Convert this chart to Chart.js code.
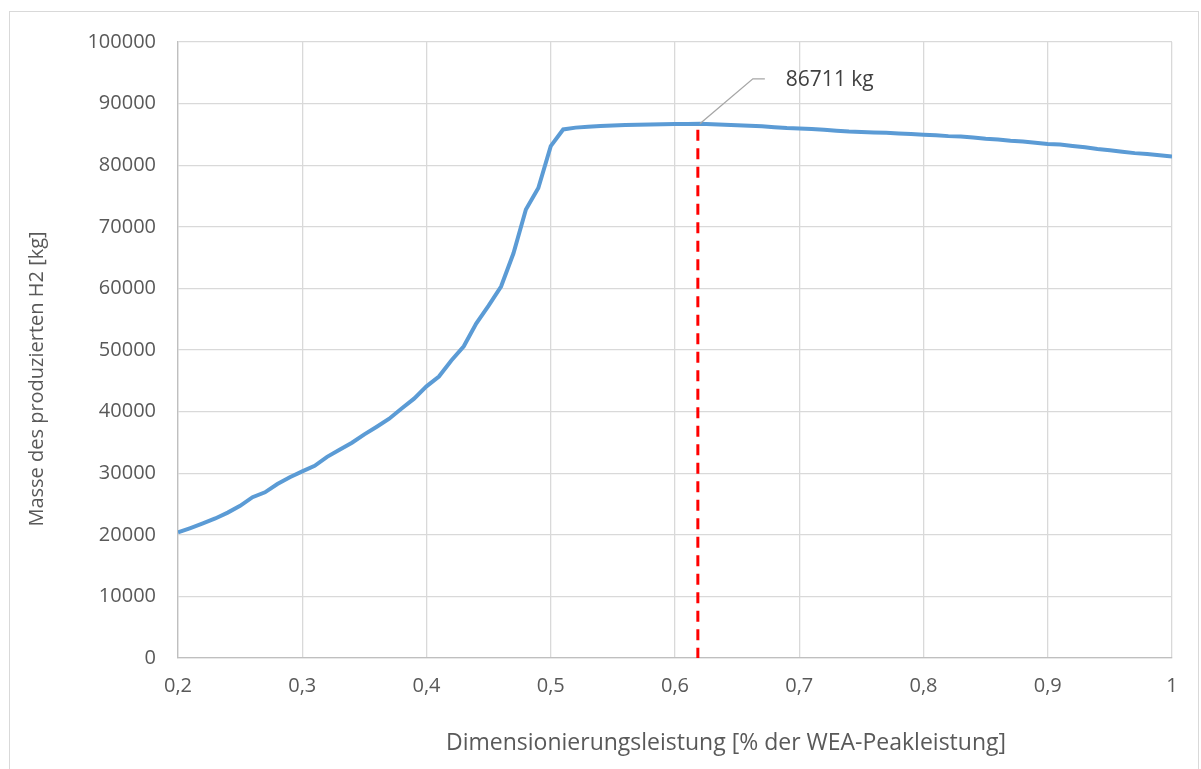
<!DOCTYPE html>
<html>
<head>
<meta charset="utf-8">
<script src="https://cdn.jsdelivr.net/npm/chart.js@4.4.1/dist/chart.umd.min.js"></script>
<style>
  html, body { margin: 0; padding: 0; background: #ffffff; }
  #wrap { width: 1201px; height: 769px; position: relative; }
</style>
</head>
<body>
<div id="wrap"><canvas id="c" width="1201" height="769"></canvas></div>
<script>
// Dimensionierungsleistung (Anteil der WEA-Peakleistung)
const leistung = [
  0.20, 0.21, 0.22, 0.23, 0.24, 0.25, 0.26, 0.27, 0.28, 0.29,
  0.30, 0.31, 0.32, 0.33, 0.34, 0.35, 0.36, 0.37, 0.38, 0.39,
  0.40, 0.41, 0.42, 0.43, 0.44, 0.45, 0.46, 0.47, 0.48, 0.49,
  0.50, 0.51, 0.52, 0.53, 0.54, 0.55, 0.56, 0.57, 0.58, 0.59,
  0.60, 0.61, 0.62, 0.63, 0.64, 0.65, 0.66, 0.67, 0.68, 0.69,
  0.70, 0.71, 0.72, 0.73, 0.74, 0.75, 0.76, 0.77, 0.78, 0.79,
  0.80, 0.81, 0.82, 0.83, 0.84, 0.85, 0.86, 0.87, 0.88, 0.89,
  0.90, 0.91, 0.92, 0.93, 0.94, 0.95, 0.96, 0.97, 0.98, 0.99,
  1.00
];

// Masse des produzierten H2 in kg
const masseH2 = [
  20400, 21100, 21850, 22650, 23600, 24700, 26100, 26900, 28250, 29350,
  30300, 31200, 32650, 33800, 34950, 36300, 37550, 38850, 40500, 42100,
  44100, 45700, 48300, 50600, 54300, 57200, 60300, 65700, 72800, 76300,
  83100, 85800, 86100, 86250, 86350, 86450, 86520, 86580, 86620, 86650,
  86670, 86690, 86711, 86640, 86560, 86500, 86420, 86320, 86170, 86020,
  85960, 85860, 85760, 85610, 85470, 85400, 85310, 85250, 85160, 85060,
  84960, 84860, 84720, 84650, 84500, 84300, 84160, 83960, 83860, 83660,
  83460, 83360, 83110, 82900, 82620, 82420, 82200, 81960, 81800, 81600,
  81400
];

// Markierung des Maximums
const optimumLeistung = 0.62;
const optimumMasse = 86711;
const optimumLabel = '86711 kg';

// Achsenbeschriftungen
const xTickWerte = [0.2, 0.3, 0.4, 0.5, 0.6, 0.7, 0.8, 0.9, 1.0];
const xTickLabels = ['0,2', '0,3', '0,4', '0,5', '0,6', '0,7', '0,8', '0,9', '1'];
const yTickLabels = ['0', '10000', '20000', '30000', '40000', '50000', '60000', '70000', '80000', '90000', '100000'];
const xTitel = 'Dimensionierungsleistung [% der WEA-Peakleistung]';
const yTitel = 'Masse des produzierten H2 [kg]';

const FONT = "'Open Sans', 'Noto Sans', sans-serif";

const punkte = leistung.map((x, i) => ({ x: x, y: masseH2[i] }));

// Rahmen, Achsentitel, Optimumslinie und Beschriftung
const extras = {
  id: 'extras',
  beforeDraw(chart) {
    const ctx = chart.ctx;
    ctx.save();
    ctx.fillStyle = '#ffffff';
    ctx.fillRect(0, 0, chart.width, chart.height);
    ctx.strokeStyle = '#d9d9d9';
    ctx.lineWidth = 1;
    ctx.strokeRect(9.5, 11.5, 1189, 770);
    ctx.restore();
  },
  afterDatasetsDraw(chart) {
    const ctx = chart.ctx;
    const xs = chart.scales.x, ys = chart.scales.y;
    const px = xs.getPixelForValue(optimumLeistung);
    const py = ys.getPixelForValue(optimumMasse);
    const y0 = ys.getPixelForValue(0);
    ctx.save();
    // senkrechte Linie am Optimum
    ctx.strokeStyle = '#ff0000';
    ctx.lineWidth = 3;
    ctx.setLineDash([11, 7.5]);
    ctx.beginPath();
    ctx.moveTo(px - 2, py + 6);
    ctx.lineTo(px - 2, y0);
    ctx.stroke();
    ctx.setLineDash([]);
    // Führungslinie zur Beschriftung
    ctx.strokeStyle = '#a6a6a6';
    ctx.lineWidth = 1.3;
    ctx.beginPath();
    ctx.moveTo(px, py);
    ctx.lineTo(px + 53, py - 45);
    ctx.lineTo(px + 65, py - 45);
    ctx.stroke();
    ctx.fillStyle = '#404040';
    ctx.font = '21px ' + FONT;
    ctx.textAlign = 'left';
    ctx.textBaseline = 'middle';
    ctx.fillText(optimumLabel, px + 86, py - 44);
    // Achsentitel
    ctx.fillStyle = '#595959';
    ctx.font = '23px ' + FONT;
    ctx.textAlign = 'center';
    ctx.fillText(xTitel, 726, 743);
    ctx.font = '20px ' + FONT;
    ctx.translate(37, 379);
    ctx.rotate(-Math.PI / 2);
    ctx.fillText(yTitel, 0, 0);
    ctx.restore();
  }
};

new Chart(document.getElementById('c'), {
  type: 'line',
  data: {
    datasets: [{
      data: punkte,
      borderColor: '#5b9bd5',
      borderWidth: 4,
      pointRadius: 0,
      tension: 0,
      fill: false
    }]
  },
  options: {
    responsive: false,
    animation: false,
    devicePixelRatio: 1,
    layout: { padding: { top: 42, right: 29, left: 0, bottom: 0 } },
    plugins: { legend: { display: false }, tooltip: { enabled: false } },
    scales: {
      x: {
        type: 'linear',
        min: 0.2,
        max: 1.0,
        afterBuildTicks(scale) {
          scale.ticks = xTickWerte.map(v => ({ value: v }));
        },
        afterFit(scale) { scale.height = 111; },
        ticks: {
          color: '#595959',
          font: { family: FONT, size: 20 },
          padding: 16,
          maxRotation: 0,
          callback: (v, i) => xTickLabels[i]
        },
        grid: { color: '#d9d9d9', lineWidth: 1.3, drawTicks: false },
        border: { color: '#bfbfbf', width: 1.3 }
      },
      y: {
        min: 0,
        max: 100000,
        afterBuildTicks(scale) {
          scale.ticks = yTickLabels.map((t, i) => ({ value: i * 10000 }));
        },
        afterFit(scale) { scale.width = 178; },
        ticks: {
          color: '#595959',
          font: { family: FONT, size: 20 },
          padding: 22,
          callback: (v, i) => yTickLabels[i]
        },
        grid: { color: '#d9d9d9', lineWidth: 1.3, drawTicks: false },
        border: { color: '#bfbfbf', width: 1.3 }
      }
    }
  },
  plugins: [extras]
});
</script>
</body>
</html>
